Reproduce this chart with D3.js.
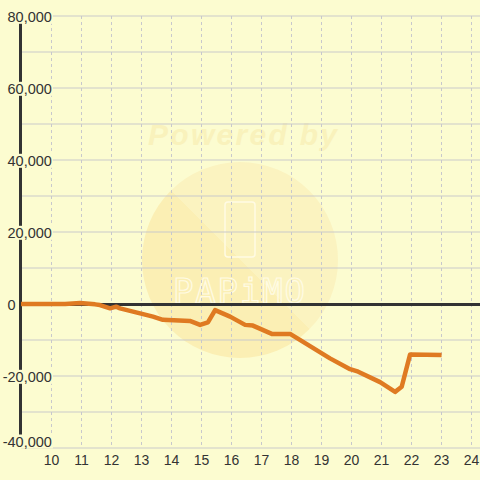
<!DOCTYPE html>
<html><head><meta charset="utf-8">
<script src="https://cdn.jsdelivr.net/npm/d3@7"></script>
<style>html,body{margin:0;padding:0;background:#fcfcd0;}svg{display:block;}</style>
</head><body>
<script>
const hours  = [9, 10.47, 10.97, 11.47, 11.63, 11.97, 12.17, 12.3, 12.97, 13.4, 13.73, 14.63, 14.97, 15.23, 15.47, 15.97, 16.47, 16.73, 17.36, 17.97, 19.3, 19.97, 20.24, 20.97, 21.47, 21.69, 21.97, 23.02];
const values = [0, 0, 300, -100, -300, -1200, -750, -1200, -2600, -3500, -4400, -4700, -5800, -5100, -1700, -3500, -5800, -6000, -8300, -8300, -15100, -18100, -18800, -21700, -24400, -23000, -14000, -14200];
const xTicks = [10,11,12,13,14,15,16,17,18,19,20,21,22,23,24];
const yTicks = [-40000,-30000,-20000,-10000,0,10000,20000,30000,40000,50000,60000,70000,80000];
const yLabelTicks = [-40000,-20000,0,20000,40000,60000,80000];

const W=480,H=480;
const svg=d3.select("body").append("svg").attr("width",W).attr("height",H);
svg.append("rect").attr("width",W).attr("height",H).attr("fill","#fcfcd0");

const x=d3.scaleLinear().domain([9,24]).range([21,471]);
const y=d3.scaleLinear().domain([-40000,80000]).range([448,16]);

// watermark
const defs=svg.append("defs");
const g=defs.append("linearGradient").attr("id","wm").attr("x1","0").attr("y1","1").attr("x2","1").attr("y2","0");
g.append("stop").attr("offset","0.5").attr("stop-color","#fbefb4");
g.append("stop").attr("offset","0.5").attr("stop-color","#fbf3c0");
const wm=svg.append("g");
wm.append("circle").attr("cx",240).attr("cy",260).attr("r",98).attr("fill","url(#wm)");
wm.append("text").attr("x",148).attr("y",145).attr("textLength",189)
  .attr("font-family","Liberation Sans, Arial, sans-serif").attr("font-weight","bold").attr("font-style","italic")
  .attr("font-size",30).attr("fill","#f9f2bc").text("Powered by");
wm.append("rect").attr("x",225).attr("y",202).attr("width",30).attr("height",55).attr("rx",3)
  .attr("fill","none").attr("stroke","#fffbe4").attr("stroke-width",1.5);
wm.append("text").attr("x",173).attr("y",303).attr("textLength",132)
  .attr("font-family","DejaVu Sans Mono, monospace").attr("font-size",34)
  .attr("fill","none").attr("stroke","#fffbe4").attr("stroke-width",1.2).text("PAPiMO");

// grid
svg.append("g").selectAll("line").data(yTicks).join("line")
  .attr("x1",21).attr("x2",W).attr("y1",d=>y(d)).attr("y2",d=>y(d))
  .attr("stroke","#cacaca").attr("stroke-width",1.2);
svg.append("g").selectAll("line").data(xTicks).join("line")
  .attr("x1",d=>x(d)+0.5).attr("x2",d=>x(d)+0.5).attr("y1",16).attr("y2",448)
  .attr("stroke","#c8c8cc").attr("stroke-width",1).attr("stroke-dasharray","3,3");

// y axis line
svg.append("line").attr("x1",20.5).attr("x2",20.5).attr("y1",16).attr("y2",448)
  .attr("stroke","#333").attr("stroke-width",3);
// zero line
svg.append("line").attr("x1",21).attr("x2",W).attr("y1",y(0)+0.5).attr("y2",y(0)+0.5)
  .attr("stroke","#333").attr("stroke-width",3);

// data line
const pts=hours.map((h,i)=>[h,values[i]]);
svg.append("path").datum(pts)
  .attr("d",d3.line().x(d=>x(d[0])).y(d=>y(d[1])))
  .attr("fill","none").attr("stroke","#df7a22").attr("stroke-width",4.5)
  .attr("stroke-linejoin","round");

// y labels with bg
const fmt=d3.format(",");
const yl=svg.append("g").attr("font-family","Liberation Sans, Arial, sans-serif").attr("font-size",14.5).attr("fill","#333");
yLabelTicks.forEach(v=>{
  const gg=yl.append("g");
  const cy=Math.min(y(v)+0.8, 441.5);
  const t=gg.append("text").attr("x",7.5).attr("y",cy).attr("dy","0.36em").text(fmt(v).replace("−","-"));
  if(v<0){ t.attr("x",7.5-4.8); }
  const bb=t.node().getBBox();
  gg.insert("rect","text").attr("x",bb.x-1).attr("y",cy-7).attr("width",bb.width+2).attr("height",14).attr("fill","#fcfcd0");
});

// x axis labels
const xa=svg.append("g").attr("transform","translate(0,448)")
  .call(d3.axisBottom(x).tickValues(xTicks).tickSize(0).tickPadding(7).tickFormat(d3.format("d")));
xa.select(".domain").remove();
xa.selectAll("text").attr("font-family","Liberation Sans, Arial, sans-serif").attr("font-size",14).attr("fill","#333");
</script>
</body></html>
